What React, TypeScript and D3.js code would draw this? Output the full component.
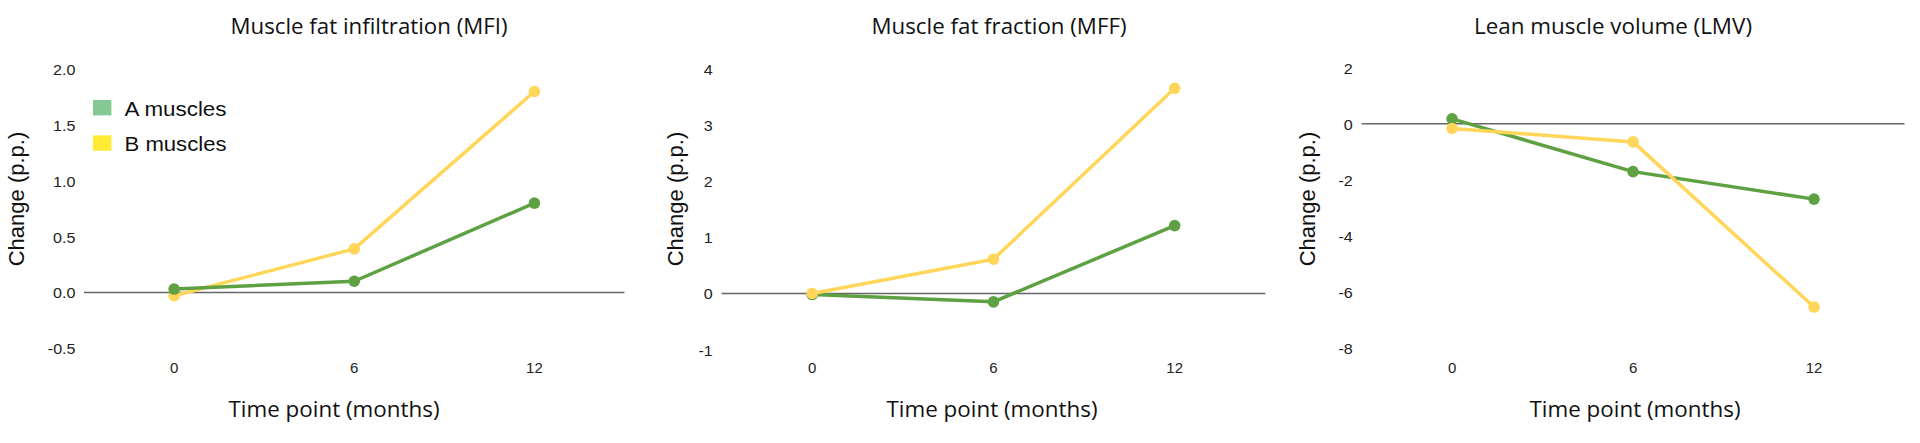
import React from 'react';
import * as d3 from 'd3';

// time points (months)
const months = [0, 6, 12];

// Muscle fat infiltration
const mfiA = [0.03, 0.1, 0.8];
const mfiB = [-0.03, 0.39, 1.8];
const mfiTicks = [-0.5, 0, 0.5, 1.0, 1.5, 2.0];

// Muscle fat fraction
const mffA = [-0.02, -0.15, 1.21];
const mffB = [0, 0.61, 3.66];
const mffTicks = [-1, 0, 1, 2, 3, 4];

// Lean muscle volume
const lmvA = [0.17, -1.71, -2.69];
const lmvB = [-0.17, -0.65, -6.54];
const lmvTicks = [-8, -6, -4, -2, 0, 2];

const seriesNames = ['A muscles', 'B muscles'];

const GREEN = '#5ea143';
const YELLOW = '#ffd65a';
const LEG_GREEN = '#84c993';
const LEG_YELLOW = '#ffeb33';

const panels = [
  {
    title: 'Muscle fat infiltration (MFI)', a: mfiA, b: mfiB, ticks: mfiTicks, fmt: (v: number) => v.toFixed(1),
    x0: 84, x1: 624.5, y0: 348.2, y1: 69.2, titleX: 369, titleW: 277, xTitleX: 334, yTitleX: 24, tickRight: 75.5,
    greenOnTop: true, legend: true,
  },
  {
    title: 'Muscle fat fraction (MFF)', a: mffA, b: mffB, ticks: mffTicks, fmt: (v: number) => String(v),
    x0: 721.6, x1: 1265.3, y0: 349.5, y1: 69.2, titleX: 999, titleW: 255, xTitleX: 992, yTitleX: 683, tickRight: 712.7,
    greenOnTop: false, legend: false,
  },
  {
    title: 'Lean muscle volume (LMV)', a: lmvA, b: lmvB, ticks: lmvTicks, fmt: (v: number) => String(v),
    x0: 1361.6, x1: 1904.5, y0: 348, y1: 67.6, titleX: 1613, titleW: 278, xTitleX: 1635, yTitleX: 1315, tickRight: 1352.7,
    greenOnTop: false, legend: false,
  },
];

function Panel({ p }: { p: typeof panels[number] }) {
  const x = d3.scaleLinear().domain([-3, 15]).range([p.x0, p.x1]);
  const ext = d3.extent(p.ticks) as [number, number];
  const y = d3.scaleLinear().domain(ext).range([p.y0, p.y1]);
  const line = d3.line<number>().x((_, i) => x(months[i])).y(d => y(d));

  const series = [
    { vals: p.a, color: GREEN },
    { vals: p.b, color: YELLOW },
  ];
  const ordered = p.greenOnTop ? [series[1], series[0]] : series;

  return (
    <g>
      <text x={p.titleX} y={34} textAnchor="middle" fontFamily="'Open Sans', sans-serif" fontSize={22}
        fill="#111" textLength={p.titleW} lengthAdjust="spacingAndGlyphs">{p.title}</text>

      {p.ticks.map(t => (
        <text key={t} transform={`translate(${p.tickRight},${y(t) + 6}) scale(1.15,1)`} textAnchor="end"
          fontFamily="'Liberation Sans', Arial, sans-serif" fontSize={14} fill="#222">{p.fmt(t)}</text>
      ))}

      <line x1={x(-3)} x2={x(15)} y1={y(0)} y2={y(0)} stroke="#666" strokeWidth={1.5} />

      {months.map(m => (
        <text key={m} x={x(m)} y={373} textAnchor="middle"
          fontFamily="'Liberation Sans', Arial, sans-serif" fontSize={15} fill="#222">{m}</text>
      ))}

      {ordered.map((s, k) => (
        <g key={k}>
          <path d={line(s.vals) ?? ''} fill="none" stroke={s.color} strokeWidth={3.5} strokeLinejoin="round" />
          {s.vals.map((v, i) => (
            <circle key={i} cx={x(months[i])} cy={y(v)} r={5.8} fill={s.color} />
          ))}
        </g>
      ))}

      <text x={p.xTitleX} y={417} textAnchor="middle" fontFamily="'Open Sans', sans-serif" fontSize={22}
        fill="#111" textLength={211} lengthAdjust="spacingAndGlyphs">Time point (months)</text>

      <text transform={`translate(${p.yTitleX},199) rotate(-90)`} textAnchor="middle"
        fontFamily="'Liberation Sans', Arial, sans-serif" fontSize={22} fill="#111">Change (p.p.)</text>

      {p.legend && seriesNames.map((name, i) => (
        <g key={name} transform={`translate(93,${100 + i * 35.3})`}>
          <rect width={18.4} height={15.4} fill={i === 0 ? LEG_GREEN : LEG_YELLOW} />
          <text x={31.5} y={15.8} fontFamily="'Liberation Sans', Arial, sans-serif" fontSize={20.5} fill="#111"
            textLength={102} lengthAdjust="spacingAndGlyphs">{name}</text>
        </g>
      ))}
    </g>
  );
}

export default function App() {
  return (
    <svg width={1920} height={443} style={{ position: 'absolute', left: 0, top: 0, background: '#fff' }}>
      <rect width={1920} height={443} fill="#fff" />
      {panels.map(p => <Panel key={p.title} p={p} />)}
    </svg>
  );
}
